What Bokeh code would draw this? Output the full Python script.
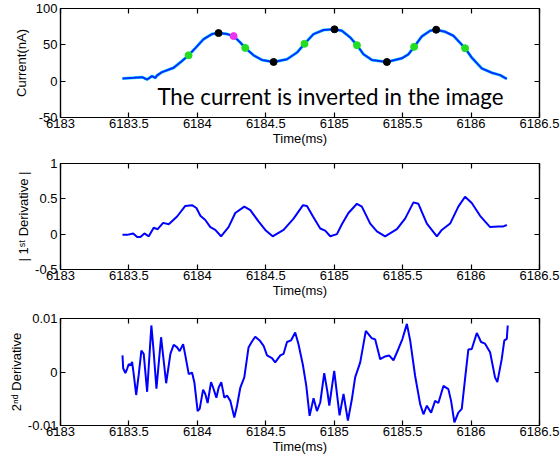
from bokeh.plotting import figure
from bokeh.layouts import column
from bokeh.models import Range1d, FixedTicker, LinearAxis, Label
from bokeh.embed import file_html
from bokeh.resources import INLINE

FONT = "Liberation Sans"

# ---- shared time axis ----
x_ticks = [6183, 6183.5, 6184, 6184.5, 6185, 6185.5, 6186, 6186.5]
x_tick_labels = ["6183", "6183.5", "6184", "6184.5", "6185", "6185.5", "6186", "6186.5"]
X_START, X_END = 6183, 6186.5

# ---- panel 1: current (nA) ----
cur_t = [6183.453, 6183.535, 6183.596, 6183.633, 6183.669, 6183.693, 6183.706, 6183.742,
         6183.827, 6183.888, 6183.936, 6183.985, 6184.046, 6184.107, 6184.155, 6184.217,
         6184.265, 6184.314, 6184.350, 6184.411, 6184.472, 6184.557, 6184.655, 6184.728,
         6184.783, 6184.849, 6184.922, 6185.002, 6185.056, 6185.117, 6185.166, 6185.214,
         6185.275, 6185.385, 6185.494, 6185.542, 6185.584, 6185.640, 6185.701, 6185.745,
         6185.810, 6185.871, 6185.956, 6186.005, 6186.078, 6186.151, 6186.212, 6186.261]
cur_v = [3.8, 4.6, 5.5, 2.3, 7.0, 4.6, 7.9, 12.5,
         18.5, 27.8, 35.6, 45.4, 57.9, 64.8, 66.2, 64.8,
         62.0, 53.2, 45.8, 35.6, 29.2, 26.4, 30.1, 39.4,
         51.4, 64.8, 70.4, 71.3, 69.4, 60.2, 49.5, 37.0,
         29.2, 26.4, 31.5, 37.0, 47.2, 61.6, 69.4, 70.8,
         68.0, 62.5, 45.4, 32.4, 17.6, 11.6, 8.3, 3.2]

# peaks and troughs
ext_t = [6184.155, 6184.557, 6185.002, 6185.385, 6185.745]
ext_v = [66.2, 26.4, 71.3, 26.4, 70.8]
# half-way crossings
mid_t = [6183.936, 6184.350, 6184.783, 6185.166, 6185.584, 6185.956]
mid_v = [35.6, 45.8, 51.4, 49.5, 47.2, 45.4]
# extra marked sample
mark_t = [6184.265]
mark_v = [62.0]

cur_y_ticks = [-50, 0, 50, 100]
cur_y_labels = ["-50", "0", "50", "100"]

# ---- panel 2: |first derivative| ----
d1_t = [6183.453, 6183.487, 6183.531, 6183.560, 6183.584, 6183.613, 6183.645, 6183.681,
        6183.710, 6183.750, 6183.791, 6183.852, 6183.912, 6183.961, 6183.993, 6184.022,
        6184.058, 6184.095, 6184.131, 6184.173, 6184.228, 6184.277, 6184.343, 6184.387,
        6184.447, 6184.496, 6184.550, 6184.630, 6184.703, 6184.772, 6184.801, 6184.845,
        6184.898, 6184.934, 6184.971, 6185.020, 6185.056, 6185.104, 6185.166, 6185.202,
        6185.263, 6185.312, 6185.372, 6185.458, 6185.518, 6185.579, 6185.615, 6185.677,
        6185.750, 6185.786, 6185.847, 6185.907, 6185.956, 6186.005, 6186.066, 6186.139,
        6186.199, 6186.236, 6186.261]
d1_v = [-0.01, -0.01, 0.01, -0.04, -0.04, 0.01, -0.03, 0.09,
        0.07, 0.16, 0.14, 0.25, 0.40, 0.41, 0.37, 0.26,
        0.20, 0.10, 0.06, -0.03, 0.10, 0.30, 0.39, 0.34,
        0.18, 0.06, -0.03, 0.06, 0.22, 0.41, 0.40, 0.25,
        0.08, 0.05, -0.03, 0.0, 0.14, 0.30, 0.43, 0.39,
        0.15, 0.04, -0.03, 0.07, 0.22, 0.45, 0.43, 0.15,
        -0.03, 0.06, 0.15, 0.39, 0.53, 0.44, 0.26, 0.10,
        0.11, 0.11, 0.13]

d1_y_ticks = [-0.5, 0, 0.5, 1]
d1_y_labels = ["-0.5", "0", "0.5", "1"]

# ---- panel 3: second derivative ----
d2_t = [6183.453, 6183.458, 6183.474, 6183.487, 6183.499, 6183.511, 6183.523, 6183.535,
        6183.553, 6183.572, 6183.591, 6183.608, 6183.633, 6183.664, 6183.681, 6183.701,
        6183.735, 6183.772, 6183.803, 6183.827, 6183.852, 6183.871, 6183.896, 6183.912,
        6183.937, 6183.961, 6183.978, 6184.002, 6184.017, 6184.042, 6184.058, 6184.075,
        6184.100, 6184.115, 6184.139, 6184.156, 6184.175, 6184.197, 6184.217, 6184.241,
        6184.270, 6184.290, 6184.314, 6184.343, 6184.374, 6184.399, 6184.423, 6184.455,
        6184.484, 6184.509, 6184.545, 6184.569, 6184.606, 6184.630, 6184.655, 6184.684,
        6184.715, 6184.739, 6184.772, 6184.796, 6184.820, 6184.849, 6184.874, 6184.898,
        6184.927, 6184.951, 6184.964, 6185.000, 6185.039, 6185.068, 6185.100, 6185.129,
        6185.153, 6185.190, 6185.231, 6185.275, 6185.299, 6185.336, 6185.372, 6185.401,
        6185.433, 6185.469, 6185.499, 6185.531, 6185.555, 6185.591, 6185.628, 6185.652,
        6185.677, 6185.708, 6185.737, 6185.761, 6185.798, 6185.834, 6185.854, 6185.878,
        6185.907, 6185.932, 6185.956, 6185.980, 6186.005, 6186.042, 6186.073, 6186.102,
        6186.139, 6186.175, 6186.192, 6186.224, 6186.243, 6186.261, 6186.268]
d2_v = [0.0031, 0.0007, -0.0002, 0.0006, 0.0015, 0.0012, 0.0019, -0.0004,
        -0.0043, -0.0004, 0.0040, 0.0034, -0.0037, 0.0087, 0.0037, -0.0031,
        0.0065, -0.0021, 0.0034, 0.0051, 0.0046, 0.0039, 0.0052, 0.0031,
        -0.0004, -0.0001, -0.0019, -0.0073, -0.0069, -0.0033, -0.0041, -0.0058,
        -0.0019, -0.0029, -0.0048, -0.0029, -0.0019, -0.0048, -0.0044, -0.0054,
        -0.0085, -0.0063, -0.0029, -0.0010, 0.0046, 0.0057, 0.0066, 0.0059,
        0.0049, 0.0031, 0.0026, 0.0018, 0.0031, 0.0034, 0.0056, 0.0059,
        0.0074, 0.0052, 0.0012, -0.0026, -0.0082, -0.0049, -0.0073, -0.0057,
        -0.0002, -0.0038, -0.0063, 0.0002, -0.0081, -0.0041, -0.0091, -0.0051,
        -0.0010, 0.0018, 0.0077, 0.0063, 0.0061, 0.0024, 0.0029, 0.0031,
        0.0022, 0.0043, 0.0062, 0.0090, 0.0059, -0.0007, -0.0060, -0.0079,
        -0.0063, -0.0076, -0.0054, -0.0058, -0.0026, -0.0032, -0.0054, -0.0094,
        -0.0076, -0.0069, -0.0013, 0.0042, 0.0043, 0.0073, 0.0056, 0.0053,
        0.0037, -0.0010, -0.0019, 0.0024, 0.0059, 0.0062, 0.0087]

d2_y_ticks = [-0.01, 0, 0.01]
d2_y_labels = ["-0.01", "0", "0.01"]


def style_axis(axis, ticks, labels, show_labels=True):
    axis.ticker = FixedTicker(ticks=ticks)
    axis.major_label_overrides = {t: s for t, s in zip(ticks, labels)}
    axis.major_tick_in = 5
    axis.major_tick_out = 0
    axis.minor_tick_line_color = None
    axis.axis_line_color = "black"
    axis.axis_line_width = 1.2
    axis.major_tick_line_color = "black"
    axis.major_tick_line_width = 1.2
    axis.major_label_text_font = FONT
    axis.major_label_text_color = "black"
    axis.axis_label_text_font = FONT
    axis.axis_label_text_font_size = "13px"
    axis.axis_label_text_font_style = "normal"
    axis.axis_label_text_color = "black"
    if show_labels:
        axis.major_label_text_font_size = "13px"
    else:
        axis.major_label_text_font_size = "1px"
        axis.major_label_text_color = None
        axis.major_label_standoff = 0


def panel(y_range, y_ticks, y_labels, y_title, y_standoff, frame_h, top, bottom):
    p = figure(frame_width=479, frame_height=frame_h,
               min_border_left=60, min_border_right=21,
               min_border_top=top, min_border_bottom=bottom,
               x_range=Range1d(X_START, X_END), y_range=Range1d(*y_range),
               output_backend="svg", toolbar_location=None)
    p.grid.visible = False
    p.outline_line_color = "black"
    p.outline_line_width = 1.2
    p.background_fill_color = "white"
    p.border_fill_color = "white"

    xa = p.xaxis[0]
    style_axis(xa, x_ticks, x_tick_labels)
    xa.major_label_standoff = 1
    xa.axis_label = "Time(ms)"
    xa.axis_label_standoff = 0

    ya = p.yaxis[0]
    style_axis(ya, y_ticks, y_labels)
    ya.major_label_standoff = 3
    ya.axis_label = y_title
    ya.axis_label_standoff = y_standoff

    top_axis = LinearAxis()
    style_axis(top_axis, x_ticks, x_tick_labels, show_labels=False)
    p.add_layout(top_axis, "above")
    right_axis = LinearAxis()
    style_axis(right_axis, y_ticks, y_labels, show_labels=False)
    p.add_layout(right_axis, "right")
    return p


# ---- current ----
p1 = panel((-50, 100), cur_y_ticks, cur_y_labels, "Current(nA)", 4, 109, 8, 30)
p1.line(cur_t, cur_v, line_color="#22e0ff", line_width=3)
p1.line(cur_t, cur_v, line_color="#0030ff", line_width=2)
p1.scatter(ext_t, ext_v, size=7, color="black")
p1.scatter(mid_t, mid_v, size=7, color="#22dd22")
p1.scatter(mark_t, mark_v, size=7, color="#ee33ee")
p1.add_layout(Label(x=6183.708, y=-21, text="The current is inverted in the image",
                    text_font="Lato", text_font_size="22.3px", text_align="left",
                    text_baseline="alphabetic", text_color="black"))

# ---- |first derivative| ----
p2 = panel((-0.5, 1), d1_y_ticks, d1_y_labels, "| 1\u02e2\u1d57 Derivative |", 1, 106, 15, 30)
p2.line(d1_t, d1_v, line_color="#0000ff", line_width=2)

# ---- second derivative ----
p3 = panel((-0.01, 0.01), d2_y_ticks, d2_y_labels, "2\u207f\u1d48 Derivative", 1, 107, 18, 31)
p3.line(d2_t, d2_v, line_color="#0000ff", line_width=2)

layout = column(p1, p2, p3, spacing=0)
open("out.html", "w").write(file_html(layout, INLINE))
